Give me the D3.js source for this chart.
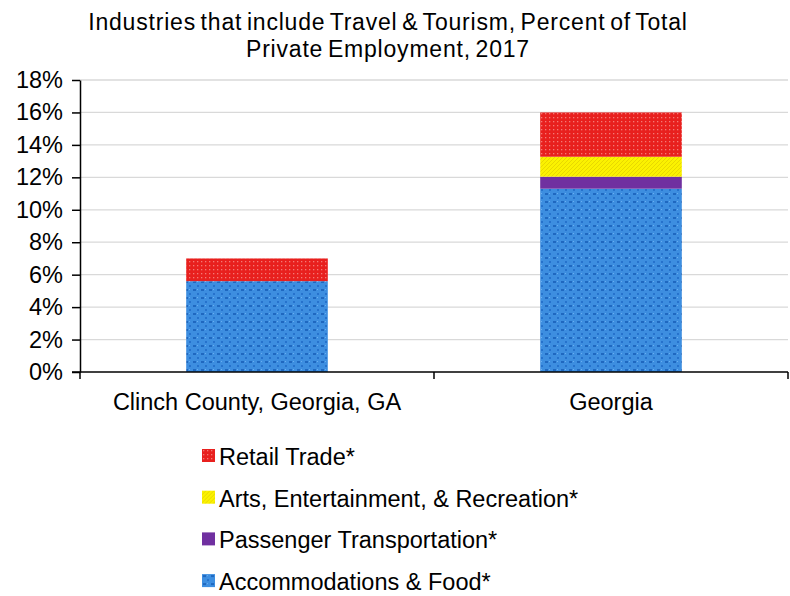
<!DOCTYPE html>
<html>
<head>
<meta charset="utf-8">
<script src="https://cdn.jsdelivr.net/npm/d3@7"></script>
<style>
  body { margin: 0; background: #fff; }
  text { font-family: "Liberation Sans", Arial, sans-serif; fill: #000; }
</style>
</head>
<body>
<svg width="790" height="596"></svg>
<script>
var categories = ['Clinch County, Georgia, GA', 'Georgia'];
var seriesNames = ['Accommodations & Food*', 'Passenger Transportation*', 'Arts, Entertainment, & Recreation*', 'Retail Trade*'];
var accommodations = [5.6, 11.3];
var passenger = [0, 0.74];
var arts = [0, 1.23];
var retail = [1.4, 2.73];
var yTicks = [0, 2, 4, 6, 8, 10, 12, 14, 16, 18];

var svg = d3.select('svg');
var margin = {left: 80, right: 2, top: 80, bottom: 224};
var width = 790 - margin.left - margin.right;
var height = 596 - margin.top - margin.bottom;
var fontStack = '"Liberation Sans", Arial, sans-serif';

// patterns for the fills
var defs = svg.append('defs');
var red = defs.append('pattern').attr('id', 'pRed').attr('patternUnits', 'userSpaceOnUse')
  .attr('width', 4).attr('height', 4);
red.append('rect').attr('width', 4).attr('height', 4).attr('fill', '#e8201e');
red.append('rect').attr('x', 1).attr('y', 1).attr('width', 1.3).attr('height', 1.3).attr('fill', '#f47a76');

var yel = defs.append('pattern').attr('id', 'pYel').attr('patternUnits', 'userSpaceOnUse')
  .attr('width', 4).attr('height', 4);
yel.append('rect').attr('width', 4).attr('height', 4).attr('fill', '#fbf200');
yel.append('path').attr('d', 'M0,4 L4,0').attr('stroke', '#e8d800').attr('stroke-width', 1);

var blue = defs.append('pattern').attr('id', 'pBlue').attr('patternUnits', 'userSpaceOnUse')
  .attr('width', 8).attr('height', 8);
blue.append('rect').attr('width', 8).attr('height', 8).attr('fill', '#3d8ee0');
blue.append('rect').attr('x', 1).attr('y', 1).attr('width', 3).attr('height', 2).attr('fill', '#1f68c0');
blue.append('rect').attr('x', 5).attr('y', 5).attr('width', 2).attr('height', 2).attr('fill', '#2672cc');
blue.append('rect').attr('x', 5).attr('y', 1).attr('width', 1).attr('height', 1).attr('fill', '#6aaef0');

var fills = ['url(#pBlue)', '#7030a0', 'url(#pYel)', 'url(#pRed)'];

var g = svg.append('g').attr('transform', 'translate(' + margin.left + ',' + margin.top + ')');

var x = d3.scaleBand().domain(categories).range([0, width]).paddingInner(0.6).paddingOuter(0.3);
var y = d3.scaleLinear().domain([0, 18]).range([height, 0]);

// gridlines
g.selectAll('.grid').data(yTicks.slice(1)).enter().append('line')
  .attr('x1', 0).attr('x2', width)
  .attr('y1', function(d) { return y(d); }).attr('y2', function(d) { return y(d); })
  .attr('stroke', '#d9d9d9').attr('stroke-width', 1.3);

// stacked bars
var table = categories.map(function(c, i) {
  return {cat: c, s0: accommodations[i], s1: passenger[i], s2: arts[i], s3: retail[i]};
});
var stack = d3.stack().keys(['s0', 's1', 's2', 's3'])(table);

g.selectAll('.layer').data(stack).enter().append('g')
  .attr('fill', function(d, i) { return fills[i]; })
  .selectAll('rect').data(function(d) { return d; }).enter().append('rect')
  .attr('x', function(d) { return x(d.data.cat); })
  .attr('width', x.bandwidth())
  .attr('y', function(d) { return y(d[1]); })
  .attr('height', function(d) { return y(d[0]) - y(d[1]); });

// y axis
var yAxis = g.append('g').call(d3.axisLeft(y).tickValues(yTicks)
  .tickFormat(function(d) { return d + '%'; }).tickSizeInner(8).tickSizeOuter(0).tickPadding(9));
yAxis.select('.domain').attr('stroke', '#000').attr('stroke-width', 1.5);
yAxis.selectAll('.tick line').attr('stroke', '#000').attr('stroke-width', 1.5);
yAxis.selectAll('text').style('font-size', '23.5px').style('font-family', fontStack);

// x axis: line with tick marks between categories
var xAxis = g.append('g').attr('transform', 'translate(0,' + height + ')');
xAxis.append('line').attr('x1', -8).attr('x2', width).attr('stroke', '#000').attr('stroke-width', 1.5);
var boundaries = [0, x.step(), width];
xAxis.selectAll('.xtick').data(boundaries).enter().append('line')
  .attr('x1', function(d) { return d; }).attr('x2', function(d) { return d; })
  .attr('y1', 0).attr('y2', 7).attr('stroke', '#000').attr('stroke-width', 1.5);
xAxis.selectAll('.xlabel').data(categories).enter().append('text')
  .attr('x', function(d) { return x(d) + x.bandwidth() / 2; })
  .attr('y', 38).attr('text-anchor', 'middle').style('font-size', '23.5px')
  .text(function(d) { return d; });

// title
var title = svg.append('text').attr('text-anchor', 'middle').style('font-size', '23px')
  .style('letter-spacing', '0.8px').style('word-spacing', '-2.5px');
title.append('tspan').attr('x', 388).attr('y', 30).text('Industries that include Travel & Tourism, Percent of Total');
title.append('tspan').attr('x', 388).attr('y', 57).text('Private Employment, 2017');

// legend (reverse order)
var legendOrder = [3, 2, 1, 0];
var leg = svg.selectAll('.leg').data(legendOrder).enter().append('g')
  .attr('transform', function(d, i) { return 'translate(202,' + (465 + i * 41.7) + ')'; });
leg.append('rect').attr('x', 0).attr('y', -16).attr('width', 13).attr('height', 13)
  .attr('fill', function(d) { return fills[d]; });
leg.append('text').attr('x', 17).attr('y', 0).style('font-size', '23.5px')
  .text(function(d) { return seriesNames[d]; });
</script>
</body>
</html>
